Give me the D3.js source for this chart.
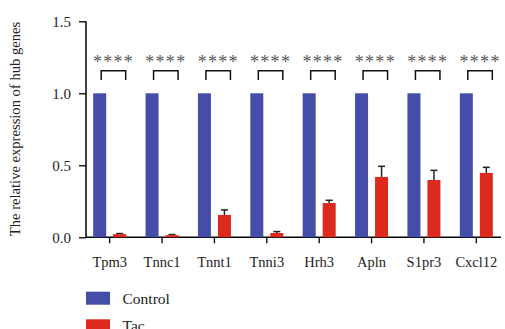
<!DOCTYPE html>
<html>
<head>
<meta charset="utf-8">
<script src="https://cdn.jsdelivr.net/npm/d3@7"></script>
<style>
  body { margin: 0; background: #fff; }
  text { font-family: "Liberation Serif", "DejaVu Serif", serif; }
</style>
</head>
<body>
<div id="chart"></div>
<script>
var genes = ["Tpm3", "Tnnc1", "Tnnt1", "Tnni3", "Hrh3", "Apln", "S1pr3", "Cxcl12"];
var control = [1, 1, 1, 1, 1, 1, 1, 1];
var tac = [0.022, 0.015, 0.155, 0.03, 0.238, 0.419, 0.398, 0.447];
var tacErr = [0.004, 0.004, 0.035, 0.01, 0.019, 0.074, 0.067, 0.039];
var stars = ["****", "****", "****", "****", "****", "****", "****", "****"];
var yTicks = [0, 0.5, 1.0, 1.5];

var width = 505, height = 329;
var blue = "#444da8", red = "#dc2a1e";

var svg = d3.select("#chart").append("svg")
    .attr("width", width)
    .attr("height", height);

var x = d3.scaleBand()
    .domain(genes)
    .range([83.5, 502.5]);

var y = d3.scaleLinear()
    .domain([0, 1.5])
    .range([237.3, 21.3]);

var barW = 13, off = 10;

// y axis
var yAxis = svg.append("g")
    .attr("transform", "translate(86,0)")
    .call(d3.axisLeft(y).tickValues(yTicks).tickFormat(d3.format(".1f")).tickSize(7).tickSizeOuter(0));
yAxis.select(".domain").attr("stroke-width", 1.5).attr("d", "M0," + y(1.5) + "V" + y(0));
yAxis.selectAll("line").attr("stroke-width", 1.3);
yAxis.selectAll("text").attr("font-size", 15).attr("fill", "#222").attr("x", -15);

// x axis
var xAxis = svg.append("g")
    .attr("transform", "translate(0," + y(0) + ")")
    .call(d3.axisBottom(x).tickSize(6).tickSizeOuter(0));
xAxis.select(".domain").attr("stroke-width", 1.5).attr("d", "M86,0H501");
xAxis.selectAll("line").attr("stroke-width", 1.3);
xAxis.selectAll("text").attr("font-size", 14.5).attr("fill", "#222").attr("dy", "1.4em");

// bars
svg.append("g").selectAll("rect")
    .data(genes)
    .enter().append("rect")
    .attr("x", function(d) { return x(d) + x.bandwidth() / 2 - off - barW / 2; })
    .attr("y", function(d, i) { return y(control[i]); })
    .attr("width", barW)
    .attr("height", function(d, i) { return y(0) - y(control[i]); })
    .attr("fill", blue);

// error bars (drawn before red bars so the stem hides inside)
var eb = svg.append("g").attr("stroke", "#222").attr("stroke-width", 1.5);
genes.forEach(function(d, i) {
  var cx = x(d) + x.bandwidth() / 2 + off;
  eb.append("line").attr("x1", cx).attr("x2", cx)
    .attr("y1", y(tac[i])).attr("y2", y(tac[i] + tacErr[i]));
  eb.append("line").attr("x1", cx - 3.5).attr("x2", cx + 3.5)
    .attr("y1", y(tac[i] + tacErr[i])).attr("y2", y(tac[i] + tacErr[i]));
});

svg.append("g").selectAll("rect")
    .data(genes)
    .enter().append("rect")
    .attr("x", function(d) { return x(d) + x.bandwidth() / 2 + off - barW / 2; })
    .attr("y", function(d, i) { return y(tac[i]); })
    .attr("width", barW)
    .attr("height", function(d, i) { return y(0) - y(tac[i]); })
    .attr("fill", red);

// significance brackets
var br = svg.append("g");
genes.forEach(function(d, i) {
  var c = x(d) + x.bandwidth() / 2;
  br.append("path")
    .attr("d", "M" + (c - 8.5) + ",80V70.7H" + (c + 16) + "V80")
    .attr("fill", "none").attr("stroke", "#111").attr("stroke-width", 1.5);
  br.append("text")
    .attr("x", c + 3.8).attr("y", 68)
    .attr("text-anchor", "middle")
    .attr("font-family", "DejaVu Sans, sans-serif")
    .attr("font-size", 18)
    .attr("letter-spacing", 1.3)
    .attr("fill", "#555")
    .text(stars[i]);
});

// y title
svg.append("text")
    .attr("transform", "translate(20,129) rotate(-90)")
    .attr("text-anchor", "middle")
    .attr("font-size", 14.6)
    .attr("fill", "#222")
    .text("The relative expression of  hub genes");

// legend
var legend = [["Control", blue], ["Tac", red]];
var lg = svg.append("g");
legend.forEach(function(l, i) {
  lg.append("rect").attr("x", 86).attr("y", 291.7 + i * 27.6)
    .attr("width", 24).attr("height", 13).attr("fill", l[1]);
  lg.append("text").attr("x", 122.5).attr("y", 303.5 + i * 27.6)
    .attr("font-size", 15.5).attr("fill", "#222").text(l[0]);
});
</script>
</body>
</html>
